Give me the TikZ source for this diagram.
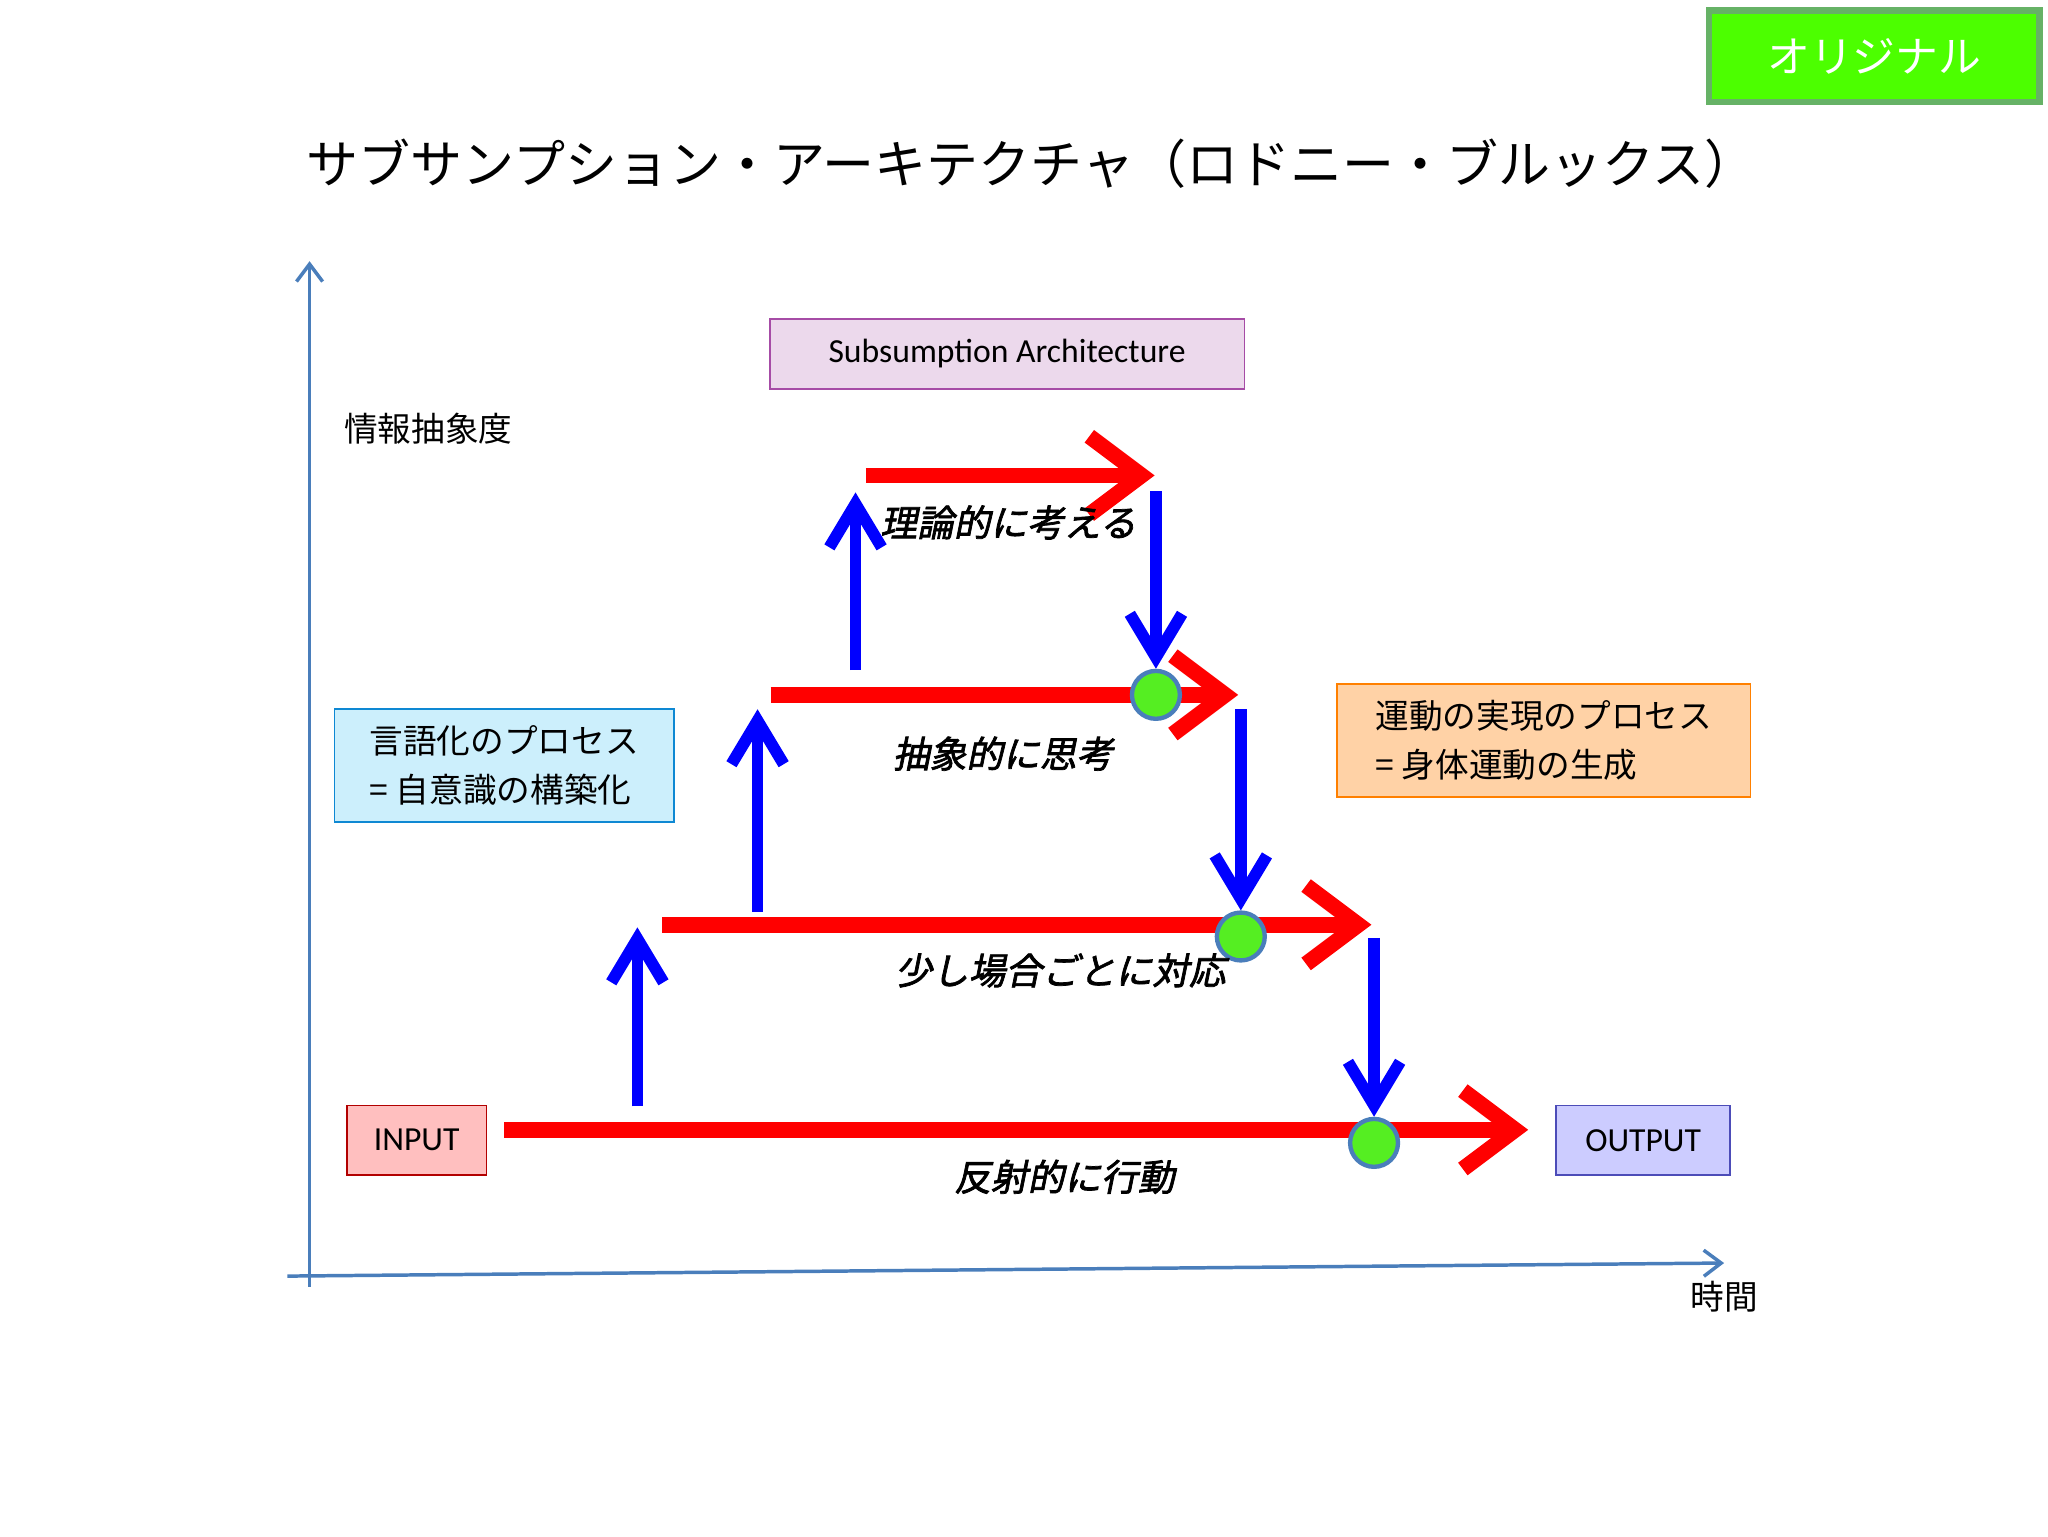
\documentclass[tikz,border=0pt]{standalone}
\usepackage{fontspec}
\setmainfont{Carlito}
\newfontfamily\cjk{Noto Sans CJK JP}
\newfontfamily\cjkbi{Noto Sans CJK JP}[FakeSlant=0.2,FakeBold=2]
\usetikzlibrary{arrows.meta,positioning}
\definecolor{axisblue}{HTML}{4A7EBB}
\definecolor{dotgreen}{HTML}{55EE22}
\tikzset{
  box/.style={draw, line width=1pt, minimum height=16mm, inner sep=2mm, font=\fontsize{22}{30}\selectfont},
  layer/.style={red, line width=3.6mm, -{Straight Barb[length=12mm,width=18mm]}},
  up/.style={blue, line width=2.7mm, -{Straight Barb[length=10mm,width=12mm]}},
  dot/.style={circle, draw=axisblue, line width=1mm, fill=dotgreen, minimum size=11mm, inner sep=0},
  act/.style={font=\cjkbi\fontsize{24}{28}\selectfont}
}
\begin{document}
\begin{tikzpicture}[x=0.3mm,y=-0.3mm]
\useasboundingbox (0,0) rectangle (1568,1176);

% Header
\node[draw=green!50!black!60, line width=1.5mm, fill=green!70!yellow, minimum width=76mm, minimum height=21mm,
  text=white, font=\cjk\fontsize{28}{30}\selectfont] (orig) at (1435,43) {オリジナル};
\node[font=\cjk\fontsize{34}{40}\selectfont] (title) at (790,125) {サブサンプション・アーキテクチャ（ロドニー・ブルックス）};

% Axes
\coordinate (O) at (237,985);
\coordinate (ytop) at (237,200);
\coordinate (xl) at (220,977);
\coordinate (xr) at (1320,967);
\draw[axisblue, line width=0.8mm, -{Straight Barb[length=4mm,width=6mm]}] (O) -- (ytop);
\draw[axisblue, line width=0.8mm, -{Straight Barb[length=4mm,width=6mm]}] (xl) -- (xr);
\node[font=\cjk\fontsize{22}{26}\selectfont] (ylab) at (328,328) {情報抽象度};
\node[font=\cjk\fontsize{22}{26}\selectfont] (xlab) at (1320,993) {時間};

% Boxes
\node[box, draw=violet!70, fill=violet!15, minimum width=109mm] (arch) at (771,271) {Subsumption Architecture};
\node[box, draw=cyan!70!blue, fill=cyan!20, minimum width=78mm, minimum height=26mm, align=left, font=\cjk\fontsize{22}{32}\selectfont] (lang) at (386,586) {言語化のプロセス\\= 自意識の構築化};
\node[box, draw=orange, fill=orange!35, minimum width=95mm, minimum height=26mm, align=left, font=\cjk\fontsize{22}{32}\selectfont] (motor) at (1182,567) {運動の実現のプロセス\\= 身体運動の生成};
\node[box, draw=red!70!black, fill=red!25, minimum width=32mm] (in) at (319,873) {INPUT};
\node[box, draw=blue!60!black!70, fill=blue!20, minimum width=40mm] (out) at (1258,873) {OUTPUT};

% Layers
\coordinate (a0) at (386,865); \coordinate (b0) at (1170,865);
\coordinate (a1) at (507,708); \coordinate (b1) at (1050,708);
\coordinate (a2) at (590,532); \coordinate (b2) at (948,532);
\coordinate (a3) at (663,364); \coordinate (b3) at (884,364);
\draw[layer] (a0) -- (b0);
\draw[layer] (a1) -- (b1);
\draw[layer] (a2) -- (b2);
\draw[layer] (a3) -- (b3);

% Upward and downward flows
\coordinate (u0) at (488,847); \coordinate (v0) at (488,710);
\coordinate (u1) at (580,698); \coordinate (v1) at (580,543);
\coordinate (u2) at (655,513); \coordinate (v2) at (655,377);
\draw[up] (u0) -- (v0);
\draw[up] (u1) -- (v1);
\draw[up] (u2) -- (v2);
\coordinate (d0) at (885,376); \coordinate (e0) at (885,512);
\coordinate (d1) at (950,543); \coordinate (e1) at (950,697);
\coordinate (d2) at (1052,718); \coordinate (e2) at (1052,855);
\draw[up] (d0) -- (e0);
\draw[up] (d1) -- (e1);
\draw[up] (d2) -- (e2);

% Junctions
\node[dot] (j2) at (885,532) {};
\node[dot] (j1) at (950,717) {};
\node[dot] (j0) at (1052,875) {};

% Layer labels
\node[act] (l3) at (772,400) {理論的に考える};
\node[act] (l2) at (768,577) {抽象的に思考};
\node[act] (l1) at (812,743) {少し場合ごとに対応};
\node[act] (l0) at (815,901) {反射的に行動};

\end{tikzpicture}
\end{document}
